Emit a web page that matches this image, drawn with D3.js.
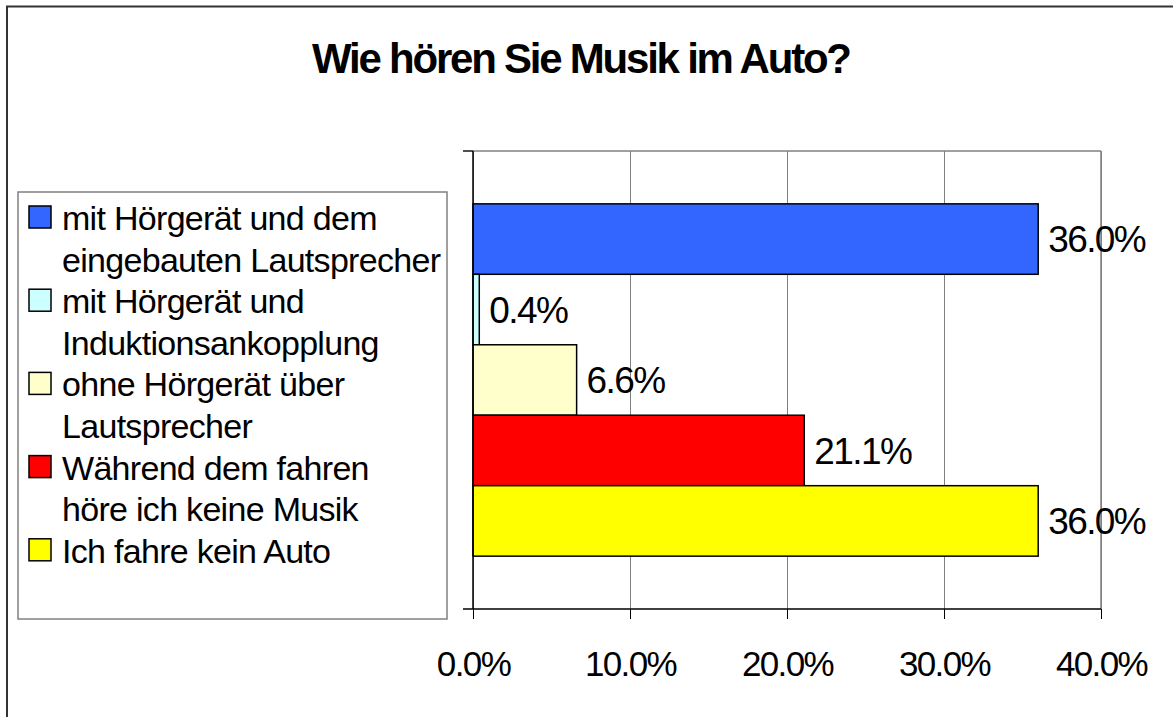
<!DOCTYPE html>
<html>
  <head>
    <meta charset="utf-8">
    <title>Wie hören Sie Musik im Auto?</title>
    <script src="https://cdn.jsdelivr.net/npm/d3@7/dist/d3.min.js"></script>
    <style>
      body { margin: 0; background: #ffffff; }
      text { font-family: "Liberation Sans", Arial, sans-serif; fill: #000; }
    </style>
  </head>
  <body>
    <svg width="1173" height="717" id="mainsvg"></svg>
    <script>
      const svg = d3.select('#mainsvg');
      const width = +svg.attr('width');
      const height = +svg.attr('height');

      // data
      const titleText = 'Wie hören Sie Musik im Auto?';
      const seriesNames = [
        'mit Hörgerät und dem\neingebauten Lautsprecher',
        'mit Hörgerät und\nInduktionsankopplung',
        'ohne Hörgerät über\nLautsprecher',
        'Während dem fahren\nhöre ich keine Musik',
        'Ich fahre kein Auto'
      ];
      const seriesValues = [0.360, 0.004, 0.066, 0.211, 0.360];
      const seriesColors = ['#3366ff', '#ccffff', '#ffffcc', '#ff0000', '#ffff00'];
      const xTicks = [0, 0.1, 0.2, 0.3, 0.4];

      const plot = {left: 473, right: 1101, top: 151, bottom: 609};
      const fmt = d3.format('.1%');

      // outer chart border (runs off the picture on the right and bottom)
      svg.append('rect')
        .attr('x', 7).attr('y', 6.5)
        .attr('width', width + 20).attr('height', height + 20)
        .attr('fill', 'none')
        .attr('stroke', '#333')
        .attr('stroke-width', 2);

      // title
      svg.append('text')
        .attr('x', 582).attr('y', 73)
        .attr('text-anchor', 'middle')
        .attr('font-size', 42)
        .attr('font-weight', 'bold')
        .attr('textLength', 540)
        .attr('lengthAdjust', 'spacing')
        .text(titleText);

      const xScale = d3.scaleLinear()
        .domain([0, 0.4])
        .range([plot.left, plot.right]);

      const yScale = d3.scaleBand()
        .domain(seriesNames)
        .range([plot.top, plot.bottom])
        .paddingInner(0)
        .paddingOuter(0.75);

      const g = svg.append('g').attr('id', 'maingroup');

      // gridlines
      const grid = g.append('g')
        .attr('transform', `translate(0, ${plot.top})`)
        .call(d3.axisTop(xScale).tickValues(xTicks).tickSize(-(plot.bottom - plot.top)).tickFormat(''));
      grid.selectAll('.domain').remove();
      grid.selectAll('.tick line').attr('stroke', '#808080').attr('stroke-width', 1);

      // plot area border (top, right)
      g.append('line')
        .attr('x1', plot.left - 10).attr('x2', plot.right)
        .attr('y1', plot.top).attr('y2', plot.top)
        .attr('stroke', '#808080').attr('stroke-width', 1.5);
      g.append('line')
        .attr('x1', plot.right).attr('x2', plot.right)
        .attr('y1', plot.top).attr('y2', plot.bottom)
        .attr('stroke', '#808080').attr('stroke-width', 1.5);

      // bars
      g.selectAll('.bar')
        .data(seriesNames)
        .join('rect')
        .attr('class', 'bar')
        .attr('x', xScale(0))
        .attr('y', d => yScale(d))
        .attr('width', (d, i) => xScale(seriesValues[i]) - xScale(0))
        .attr('height', yScale.bandwidth())
        .attr('fill', (d, i) => seriesColors[i])
        .attr('stroke', '#000')
        .attr('stroke-width', 1.5);

      // data labels
      g.selectAll('.label')
        .data(seriesNames)
        .join('text')
        .attr('class', 'label')
        .attr('x', (d, i) => xScale(seriesValues[i]) + 10)
        .attr('y', d => yScale(d) + yScale.bandwidth() / 2)
        .attr('dy', '0.36em')
        .attr('font-size', 37)
        .attr('letter-spacing', -1.6)
        .text((d, i) => fmt(seriesValues[i]));

      // x axis
      const xAxis = d3.axisBottom(xScale)
        .tickValues(xTicks)
        .tickFormat(fmt)
        .tickSize(10)
        .tickSizeOuter(0)
        .tickPadding(32);
      const xAxisGroup = g.append('g')
        .attr('transform', `translate(0, ${plot.bottom})`)
        .call(xAxis);
      xAxisGroup.select('.domain').remove();
      xAxisGroup.selectAll('.tick line').attr('stroke', '#000');
      xAxisGroup.selectAll('.tick text')
        .attr('font-size', 35)
        .attr('letter-spacing', -1.6)
        .attr('font-family', '"Liberation Sans", Arial, sans-serif')
        .attr('fill', '#000');
      g.append('line')
        .attr('x1', plot.left - 10).attr('x2', plot.right)
        .attr('y1', plot.bottom).attr('y2', plot.bottom)
        .attr('stroke', '#000').attr('stroke-width', 1.5);

      // y axis (single category, ticks only at its edges)
      g.append('line')
        .attr('x1', plot.left).attr('x2', plot.left)
        .attr('y1', plot.top).attr('y2', plot.bottom)
        .attr('stroke', '#000').attr('stroke-width', 1.5);
      g.append('line')
        .attr('x1', plot.left - 10).attr('x2', plot.left)
        .attr('y1', plot.top).attr('y2', plot.top)
        .attr('stroke', '#000').attr('stroke-width', 1);

      // legend
      const legend = svg.append('g').attr('id', 'legend');
      legend.append('rect')
        .attr('x', 18).attr('y', 192)
        .attr('width', 429).attr('height', 427)
        .attr('fill', '#fff')
        .attr('stroke', '#808080')
        .attr('stroke-width', 1.5);

      const lineHeight = 41.6;
      let lineIndex = 0;
      seriesNames.forEach((name, i) => {
        const lines = name.split('\n');
        const baseline = 230 + lineIndex * lineHeight;
        legend.append('rect')
          .attr('x', 29).attr('y', baseline - 24)
          .attr('width', 22).attr('height', 22)
          .attr('fill', seriesColors[i])
          .attr('stroke', '#000')
          .attr('stroke-width', 1.5);
        lines.forEach((ln, j) => {
          legend.append('text')
            .attr('x', 62)
            .attr('y', baseline + j * lineHeight)
            .attr('font-size', 34)
            .attr('letter-spacing', -0.7)
            .text(ln);
        });
        lineIndex += lines.length;
      });
    </script>
  </body>
</html>
